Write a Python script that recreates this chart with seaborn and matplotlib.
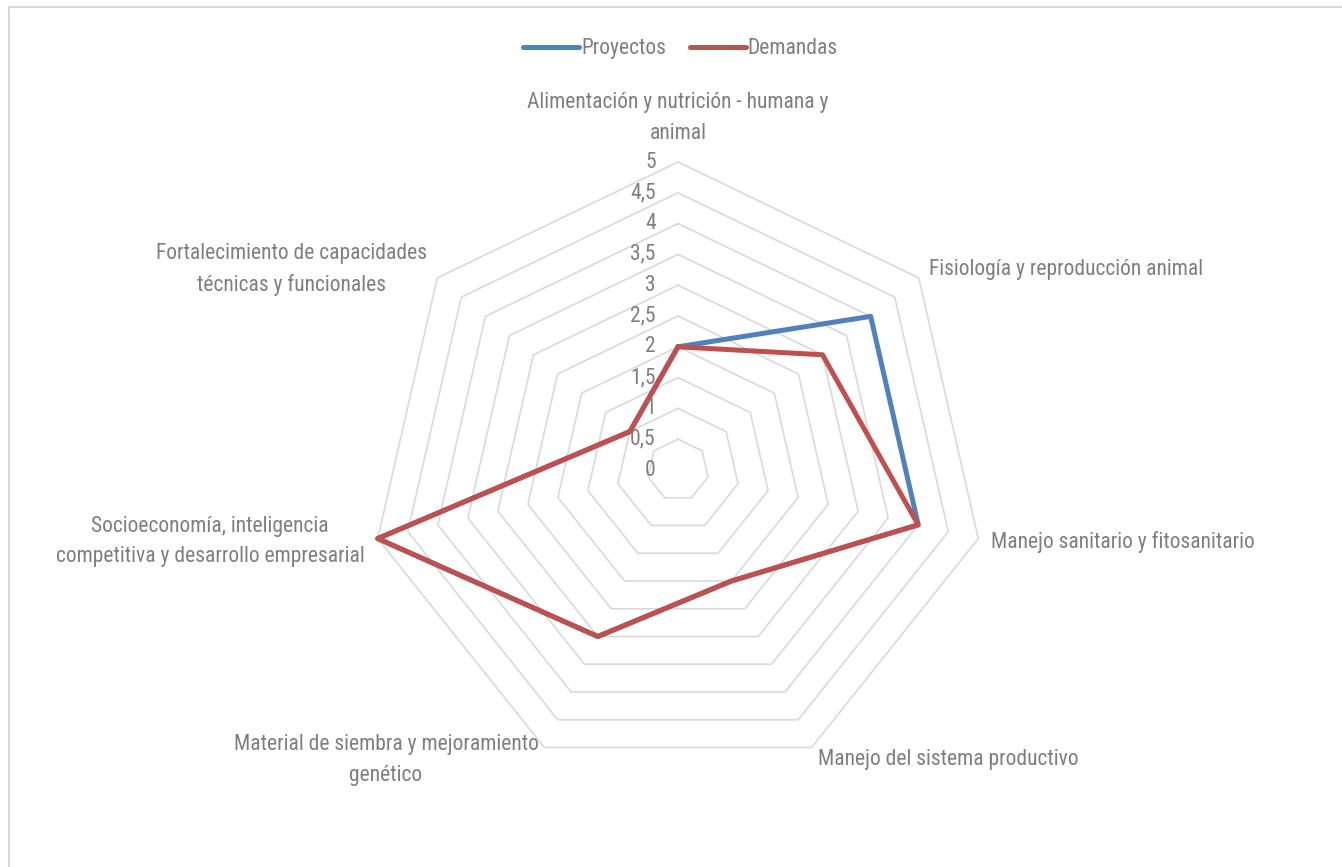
import numpy as np
import pandas as pd
import matplotlib
matplotlib.use("Agg")
import matplotlib.pyplot as plt
from matplotlib.patches import Rectangle
import seaborn as sns

# datos
categorias = [
    "Alimentación y nutrición - humana y\nanimal",
    "Fisiología y reproducción animal",
    "Manejo sanitario y fitosanitario",
    "Manejo del sistema productivo",
    "Material de siembra y mejoramiento\ngenético",
    "Socioeconomía, inteligencia\ncompetitiva y desarrollo empresarial",
    "Fortalecimiento de capacidades\ntécnicas y funcionales",
]
proyectos = [2, 4, 4, 2, 3, 5, 1]
demandas = [2, 3, 4, 2, 3, 5, 1]
series = ["Proyectos", "Demandas"]
niveles = [0, 0.5, 1, 1.5, 2, 2.5, 3, 3.5, 4, 4.5, 5]
etiquetas_nivel = ["0", "0,5", "1", "1,5", "2", "2,5", "3", "3,5", "4", "4,5", "5"]

sns.set_theme(style="white")
plt.rcParams["font.family"] = ["Roboto Condensed", "Open Sans Condensed",
                               "Liberation Sans Narrow", "Lato", "DejaVu Sans"]
gris = "#7f7f7f"
colores = {"Proyectos": "#4f81bd", "Demandas": "#c0504d"}
fs = 15.5

n = len(categorias)
ang = np.arange(n + 1) * 2 * np.pi / n  # cerrado


def a_xy(valores):
    v = np.append(valores, valores[0])
    return v * np.sin(ang), v * np.cos(ang)


filas = []
for nombre, vals in zip(series, [proyectos, demandas]):
    x, y = a_xy(np.array(vals, dtype=float))
    for i in range(len(x)):
        filas.append({"x": x[i], "y": y[i], "serie": nombre})
df = pd.DataFrame(filas)

fig = plt.figure(figsize=(13.42, 8.67), dpi=100)
ax = fig.add_axes([0, 0, 1, 1])

# escala: centro en pixel (678, 470), 61.6 px por unidad
cx, cy, esc = 678, 470, 61.6
ax.set_xlim(-cx / esc, (1342 - cx) / esc)
ax.set_ylim(-(867 - cy) / esc, cy / esc)
ax.axis("off")

# rejilla heptagonal
for nv in niveles[1:]:
    gx, gy = a_xy(np.full(n, nv))
    ax.plot(gx, gy, color="#d9d9d9", lw=1.2, zorder=1)

sns.lineplot(data=df, x="x", y="y", hue="serie", hue_order=series,
             palette=colores, sort=False, estimator=None, units="serie",
             linewidth=3.6, ax=ax, zorder=3)

# etiquetas de nivel
for nv, et in zip(niveles, etiquetas_nivel):
    ax.text(-0.36, nv, et, ha="right", va="center", fontsize=fs, color=gris)

# etiquetas de categorias
for i, cat in enumerate(categorias):
    t = ang[i]
    s = np.sin(t)
    if abs(s) < 0.05:
        ax.text(0, 5.3, cat, ha="center", va="bottom", fontsize=fs,
                color=gris, multialignment="center", linespacing=1.6)
    else:
        ax.text(5.22 * s, 5.22 * np.cos(t), cat,
                ha="left" if s > 0 else "right", va="center", fontsize=fs,
                color=gris, multialignment="center", linespacing=1.6)

sns.move_legend(ax, "center", bbox_to_anchor=(0.507, 0.944), ncol=2,
                frameon=False, title=None, fontsize=fs, handlelength=2.6,
                handletextpad=0.1, columnspacing=1.1, labelcolor=gris)

# borde del grafico
fig.add_artist(Rectangle((9 / 1342, -0.1), 1.2, 1.1 - 6.5 / 867,
                         transform=fig.transFigure, fill=False,
                         edgecolor="#d9d9d9", lw=1.5))

fig.savefig("out.png", dpi=100, facecolor="white")
